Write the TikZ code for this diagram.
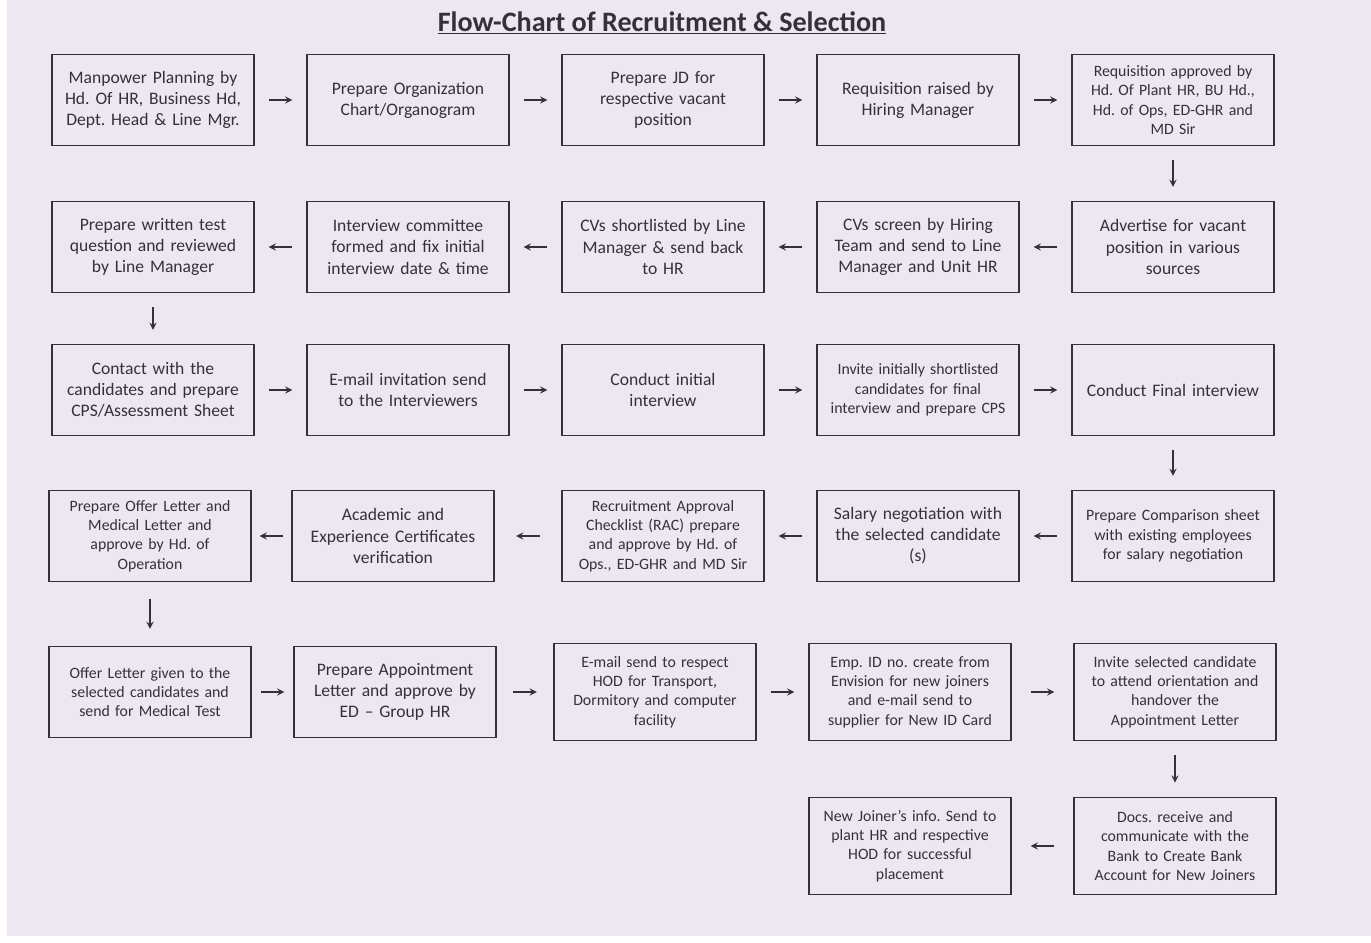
\documentclass[tikz,border=0pt]{standalone}
\usepackage{fontspec}
\setmainfont{Carlito}
\usepackage{xcolor}
\usepackage{tikz}
\usetikzlibrary{positioning}
\definecolor{paper}{RGB}{236,231,240}
\definecolor{ink}{RGB}{52,50,56}
\tikzstyle{stage} = [rectangle, minimum width=4.04cm, minimum height=1.82cm, text width=3.8cm, text centered, align=center, draw=ink, line width=0.8pt, text=ink, font=\normalsize]
\tikzstyle{stagesmall} = [stage, font=\small]
\tikzstyle{stagetall} = [stagesmall, minimum height=1.95cm]
\tikzstyle{arrow} = [thick,->,>=stealth, draw=ink, shorten <=0.28cm, shorten >=0.28cm]
\frenchspacing

\begin{document}
\begin{tikzpicture}[node distance=5.1cm]
		\fill[white] (0,0) rectangle (27.42,-18.84);
		\fill[paper] (0.14,0) rectangle (27.42,-18.72);
		\node (title) at (13.24,-0.46) [font=\fontsize{16}{19}\selectfont\bfseries, text=ink] {\underline{Flow-Chart of Recruitment \& Selection}};
		
		\node (plan) [stage] at (3.06,-2.0) {Manpower Planning by\\Hd. Of HR, Business Hd,\\Dept. Head \& Line Mgr.};
		\node (orgchart) [stage, right of=plan] {Prepare Organization\\Chart/Organogram};
		\node (jd) [stage, right of=orgchart] {Prepare JD for\\respective vacant\\position};
		\node (requisition) [stage, right of=jd] {Requisition raised by\\Hiring Manager};
		\node (approval) [stagesmall, right of=requisition] {Requisition approved by\\Hd. Of Plant HR, BU Hd.,\\Hd. of Ops, ED-GHR and\\MD Sir};
		
		\node (advertise) [stage, below of=approval, node distance=2.94cm] {Advertise for vacant\\position in various\\sources};
		\node (screen) [stage, left of=advertise] {CVs screen by Hiring\\Team and send to Line\\Manager and Unit HR};
		\node (shortlist) [stage, left of=screen] {CVs shortlisted by Line\\Manager \& send back\\to HR};
		\node (committee) [stage, left of=shortlist] {Interview committee\\formed and fix initial\\interview date \& time};
		\node (writtentest) [stage, left of=committee] {Prepare written test\\question and reviewed\\by Line Manager};
		
		\node (contact) [stage, below of=writtentest, node distance=2.86cm] {Contact with the\\candidates and prepare\\CPS/Assessment Sheet};
		\node (invitation) [stage, right of=contact] {E-mail invitation send\\to the Interviewers};
		\node (initial) [stage, right of=invitation] {Conduct initial\\interview};
		\node (invitefinal) [stagesmall, right of=initial] {Invite initially shortlisted\\candidates for final\\interview and prepare CPS};
		\node (final) [stage, right of=invitefinal] {Conduct Final interview};
		
		\node (comparison) [stagesmall, below of=final, node distance=2.92cm] {Prepare Comparison sheet\\with existing employees\\for salary negotiation};
		\node (salary) [stage, left of=comparison] {Salary negotiation with\\the selected candidate\\(s)};
		\node (rac) [stagesmall, left of=salary] {Recruitment Approval\\Checklist (RAC) prepare\\and approve by Hd. of\\Ops., ED-GHR and MD Sir};
		\node (certificates) [stage, left of=rac, xshift=-0.3cm] {Academic and\\Experience Certificates\\verification};
		\node (offer) [stagesmall, left of=certificates, xshift=0.24cm] {Prepare Offer Letter and\\Medical Letter and\\approve by Hd. of\\Operation};
		
		\node (offergiven) [stagesmall, below of=offer, node distance=3.12cm] {Offer Letter given to the\\selected candidates and\\send for Medical Test};
		\node (appointment) [stage, right of=offergiven, xshift=-0.2cm] {Prepare Appointment\\Letter and approve by\\ED -- Group HR};
		\node (facility) [stagetall, right of=appointment, xshift=0.1cm] {E-mail send to respect\\HOD for Transport,\\Dormitory and computer\\facility};
		\node (empid) [stagetall, right of=facility] {Emp. ID no. create from\\Envision for new joiners\\and e-mail send to\\supplier for New ID Card};
		\node (orientation) [stagetall, right of=empid, xshift=0.2cm] {Invite selected candidate\\to attend orientation and\\handover the\\Appointment Letter};
		
		\node (bank) [stagetall, below of=orientation, node distance=3.08cm] {Docs. receive and\\communicate with the\\Bank to Create Bank\\Account for New Joiners};
		\node (placement) [stagetall, left of=bank, xshift=-0.2cm] {New Joiner's info. Send to\\plant HR and respective\\HOD for successful\\placement};
		
		%arrows
		\draw [arrow](plan) -- (orgchart);
		\draw [arrow](orgchart) -- (jd);
		\draw [arrow](jd) -- (requisition);
		\draw [arrow](requisition) -- (approval);
		\draw [arrow](approval) -- (advertise);
		\draw [arrow](advertise) -- (screen);
		\draw [arrow](screen) -- (shortlist);
		\draw [arrow](shortlist) -- (committee);
		\draw [arrow](committee) -- (writtentest);
		\draw [arrow](writtentest) -- (contact);
		\draw [arrow](contact) -- (invitation);
		\draw [arrow](invitation) -- (initial);
		\draw [arrow](initial) -- (invitefinal);
		\draw [arrow](invitefinal) -- (final);
		\draw [arrow](final) -- (comparison);
		\draw [arrow](comparison) -- (salary);
		\draw [arrow](salary) -- (rac);
		\draw [arrow, shorten <=0.43cm, shorten >=0.43cm](rac) -- (certificates);
		\draw [arrow, shorten <=0.16cm, shorten >=0.16cm](certificates) -- (offer);
		\draw [arrow, shorten <=0.34cm, shorten >=0.34cm](offer) -- (offergiven);
		\draw [arrow, shorten <=0.18cm, shorten >=0.18cm](offergiven) -- (appointment);
		\draw [arrow, shorten <=0.33cm, shorten >=0.33cm](appointment) -- (facility);
		\draw [arrow](facility) -- (empid);
		\draw [arrow, shorten <=0.38cm, shorten >=0.38cm](empid) -- (orientation);
		\draw [arrow](orientation) -- (bank);
		\draw [arrow, shorten <=0.38cm, shorten >=0.38cm](bank) -- (placement);
		
	\end{tikzpicture}
\end{document}
